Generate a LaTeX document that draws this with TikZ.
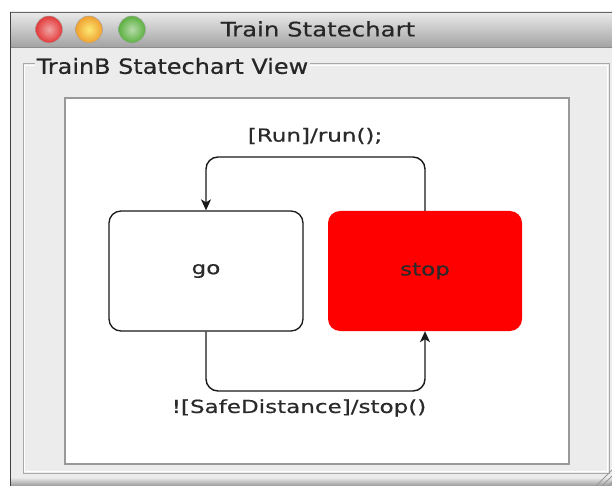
\documentclass[tikz,border=0pt]{standalone}
\usepackage{fontspec}
\setmainfont{DejaVu Sans}
\newfontfamily\lblfont[FakeStretch=1.28,FakeBold=0.6]{DejaVu Sans}
\newfontfamily\titlefont[FakeStretch=1.22,FakeBold=0.4]{DejaVu Sans}
\newfontfamily\groupfont[FakeStretch=1.14,FakeBold=0.5]{DejaVu Sans}
\usetikzlibrary{arrows.meta}
\definecolor{winbg}{HTML}{ECECEC}
\definecolor{frame}{HTML}{A8A8A8}
\definecolor{txt}{HTML}{2A2A2A}
\definecolor{stopred}{HTML}{FF0000}
\definecolor{lred}{HTML}{E23838}
\definecolor{lorange}{HTML}{F0A030}
\definecolor{lgreen}{HTML}{5CB040}
\begin{document}
\begin{tikzpicture}[x=1pt,y=-1pt,
  statebox/.style={rounded corners=12pt, minimum width=194pt, minimum height=120pt, inner sep=0pt, font=\lblfont\fontsize{18}{22}\selectfont, text=txt},
  trans/.style={draw=black!90, line width=1.4pt, rounded corners=12pt, -{Stealth[length=11pt,width=10pt,inset=3pt]}},
  lbl/.style={font=\lblfont\fontsize{18}{22}\selectfont, text=txt, inner sep=0pt},
  light/.style={circle, minimum size=27pt, inner sep=0pt, draw=black!35, line width=0.5pt, shading=radial}]
\useasboundingbox (0,0) rectangle (612,486);
\fill[white] (0,0) rectangle (612,486);
% window
\fill[winbg] (10,12) rectangle (612,486);
\shade[top color=black!8, bottom color=black!36] (10,12) rectangle (612,47);
\draw[black!60, line width=0.8pt] (10,12) -- (612,12);
\draw[black!45, line width=0.8pt] (10,47) -- (612,47);
\draw[black!75, line width=1.2pt] (10.6,12) -- (10.6,486);
\shade[top color=black!10, bottom color=black!40] (11,478) rectangle (612,486);
% traffic lights
\node[light, inner color=lred!45!white, outer color=lred] (red) at (49,29.5) {};
\node[light, inner color=lorange!40!yellow!60!white, outer color=lorange] (orange) at (89,29.5) {};
\node[light, inner color=lgreen!45!white, outer color=lgreen] (green) at (132,29.5) {};
\node[font=\titlefont\fontsize{20}{24}\selectfont, text=black!85, inner sep=0pt] (title) at (318,29) {Train Statechart};
% group box
\draw[frame, line width=1pt] (23,64) rectangle (609,473);
\draw[white, line width=1pt] (24.5,65.5) rectangle (607.5,471.5);
\node[fill=winbg, font=\groupfont\fontsize{21}{25}\selectfont, text=black!85, inner sep=1.5pt, anchor=west] (group) at (35,66) {TrainB Statechart View};
% panel
\fill[white] (65,98) rectangle (569,464);
\draw[black!40, line width=1.5pt] (65,98) rectangle (569,464);
% states
\node[statebox, draw=black!90, line width=1.3pt, fill=white] (go) at (206,271) {go};
\node[statebox, fill=stopred] (stop) at (425,271) {stop};
% transitions
\coordinate (topy) at (0,157);
\coordinate (boty) at (0,391);
\draw[trans] (stop.north) -- (stop.north |- topy) -- (go.north |- topy) -- (go.north);
\draw[trans] (go.south) -- (go.south |- boty) -- (stop.south |- boty) -- (stop.south);
\node[lbl] (runlbl) at (315,136) {[Run]/run();};
\node[lbl] (stoplbl) at (299,408) {![SafeDistance]/stop()};
% resize grip
\draw[black!40, line width=0.8pt] (596,486) -- (612,470) (602,486) -- (612,476) (608,486) -- (612,482);
\end{tikzpicture}
\end{document}
